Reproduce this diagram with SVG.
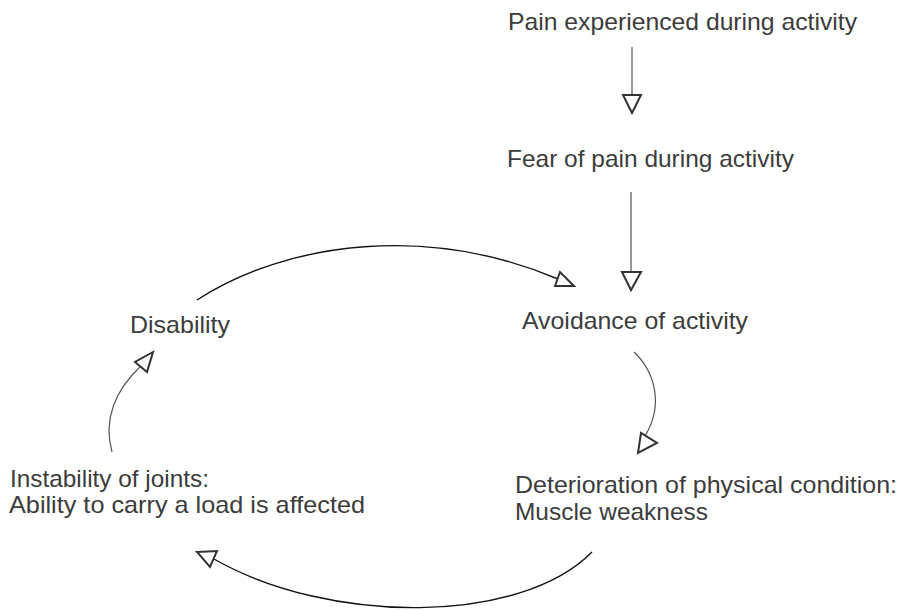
<svg xmlns="http://www.w3.org/2000/svg" width="899" height="611" viewBox="0 0 899 611">
<style>
.t{font-family:"Liberation Sans",Arial,sans-serif;font-size:24px;fill:#3c3c3c}
.ln{fill:none;stroke:#555;stroke-width:1.2}
.cv{fill:none;stroke:#111;stroke-width:1.4}
.hd{fill:#fff;stroke:#333;stroke-width:2;stroke-linejoin:miter}
</style>
<rect width="899" height="611" fill="#fff"/>
<g id="pain"><text class="t" x="508" y="30" textLength="349" lengthAdjust="spacingAndGlyphs">Pain experienced during activity</text></g>
<g id="fear"><text class="t" x="507" y="167" textLength="287" lengthAdjust="spacingAndGlyphs">Fear of pain during activity</text></g>
<g id="avoidance"><text class="t" x="522" y="329" textLength="226" lengthAdjust="spacingAndGlyphs">Avoidance of activity</text></g>
<g id="disability"><text class="t" x="130" y="333" textLength="100" lengthAdjust="spacingAndGlyphs">Disability</text></g>
<g id="instability"><text class="t" x="10" y="487" textLength="199" lengthAdjust="spacingAndGlyphs">Instability of joints:</text><text class="t" x="9" y="513" textLength="356" lengthAdjust="spacingAndGlyphs">Ability to carry a load is affected</text></g>
<g id="deterioration"><text class="t" x="515" y="493" textLength="382" lengthAdjust="spacingAndGlyphs">Deterioration of physical condition:</text><text class="t" x="515" y="520" textLength="193" lengthAdjust="spacingAndGlyphs">Muscle weakness</text></g>
<g id="connectors">
<path class="ln" d="M632,47 L632,95"/>
<polygon class="hd" points="623,95 641,95 632,113"/>
<path class="ln" d="M631,192 L631,272"/>
<polygon class="hd" points="622,272 641,272 631,290"/>
<path class="cv" d="M197,300 C290,240 430,225 558,279"/>
<polygon class="hd" points="555,286 560,272 574,286"/>
<path class="ln" d="M634,352 C655,372 664,405 645,436"/>
<polygon class="hd" points="641,433 638,453 657,443"/>
<path class="cv" d="M592,552 C520,625 330,625 214,559"/>
<polygon class="hd" points="197,552 217,551 210,567"/>
<path class="ln" d="M112,452 C103,420 115,390 141,366"/>
<polygon class="hd" points="153,352 135,362 147,372"/>
</g>
</svg>
